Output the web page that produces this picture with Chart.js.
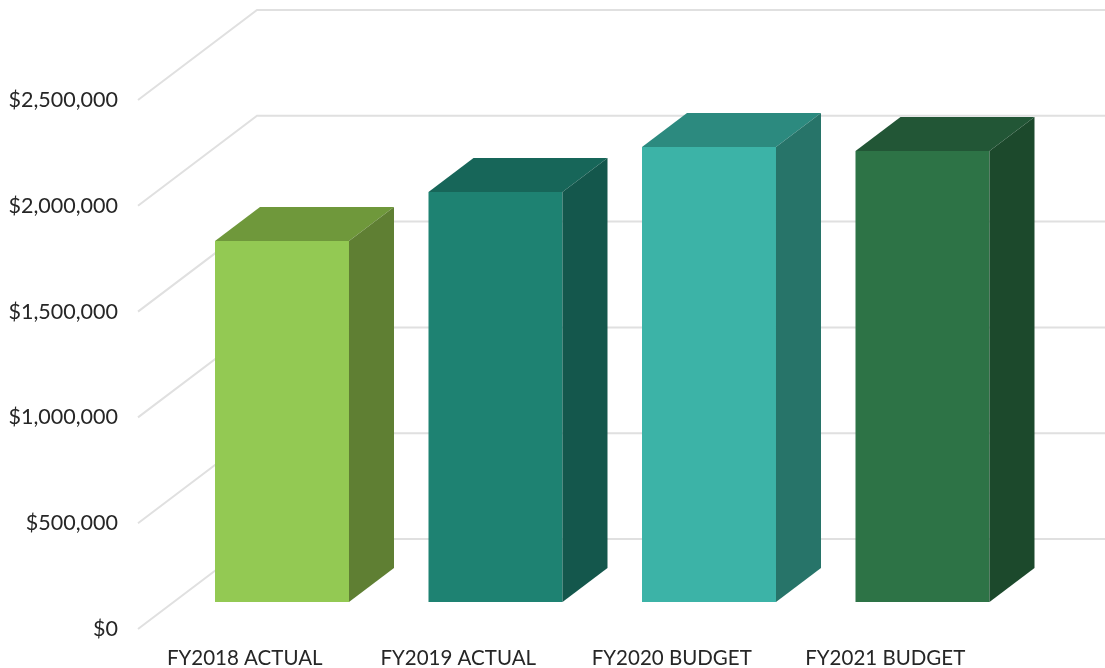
<!DOCTYPE html>
<html>
<head>
<meta charset="utf-8">
<title>Budget by fiscal year</title>
<script src="https://cdn.jsdelivr.net/npm/chart.js@4/dist/chart.umd.min.js"></script>
<style>
  html, body { margin: 0; padding: 0; background: #ffffff; }
  canvas { display: block; }
</style>
</head>
<body>
<canvas id="budgetChart" width="1105" height="668"></canvas>
<script>
const categories = ['FY2018 ACTUAL', 'FY2019 ACTUAL', 'FY2020 BUDGET', 'FY2021 BUDGET'];
const budgetValues = [1706000, 1938000, 2150000, 2131000];
const frontColors = ['#93c953', '#1e8272', '#3cb3a7', '#2d7346'];
const topColors = ['#6f983b', '#176659', '#2c8a7f', '#225636'];
const sideColors = ['#5f7f33', '#14574c', '#277469', '#1c492c'];

const axisMax = 2500000;
const axisStep = 500000;

// Fake 3D depth, in pixels
const wallDepth = { x: 119, y: -90 };
const barShift = { x: 37.25, y: -27 };
const barDepth = { x: 45, y: -34 };

function face(ctx, points, color) {
  ctx.fillStyle = color;
  ctx.beginPath();
  points.forEach(([x, y], i) => (i ? ctx.lineTo(x, y) : ctx.moveTo(x, y)));
  ctx.closePath();
  ctx.fill();
}

const depthPlugin = {
  id: 'depth',
  beforeDatasetsDraw(chart) {
    const { ctx, scales, chartArea } = chart;
    ctx.save();
    ctx.strokeStyle = '#e0e0e0';
    ctx.lineWidth = 2;
    scales.y.ticks.forEach(tick => {
      const y = scales.y.getPixelForValue(tick.value);
      ctx.beginPath();
      ctx.moveTo(chartArea.left, y);
      ctx.lineTo(chartArea.left + wallDepth.x, y + wallDepth.y);
      ctx.lineTo(chart.width, y + wallDepth.y);
      ctx.stroke();
    });
    ctx.restore();

    // Bars stand part way into the floor
    ctx.save();
    ctx.translate(barShift.x, barShift.y);
  },
  afterDatasetsDraw(chart) {
    const { ctx } = chart;
    ctx.restore();

    chart.getDatasetMeta(0).data.forEach((bar, i) => {
      const left = bar.x - bar.width / 2 + barShift.x;
      const right = bar.x + bar.width / 2 + barShift.x;
      const top = bar.y + barShift.y;
      const base = bar.base + barShift.y;
      face(ctx, [
        [left, top],
        [right, top],
        [right + barDepth.x, top + barDepth.y],
        [left + barDepth.x, top + barDepth.y]
      ], topColors[i]);
      face(ctx, [
        [right, top],
        [right + barDepth.x, top + barDepth.y],
        [right + barDepth.x, base + barDepth.y],
        [right, base]
      ], sideColors[i]);
    });
  }
};

new Chart(document.getElementById('budgetChart'), {
  type: 'bar',
  data: {
    labels: categories,
    datasets: [{
      data: budgetValues,
      backgroundColor: frontColors,
      barPercentage: 0.6276,
      categoryPercentage: 1,
      clip: false
    }]
  },
  options: {
    responsive: false,
    animation: false,
    layout: { padding: { top: 100, right: 113, bottom: 0, left: 0 } },
    plugins: { legend: { display: false }, tooltip: { enabled: false } },
    scales: {
      x: {
        grid: { display: false, drawTicks: false },
        border: { display: false },
        afterFit: scale => { scale.height = 39; },
        ticks: {
          color: '#262626',
          padding: 17,
          maxRotation: 0,
          font: { family: 'Lato', size: 20.5 }
        }
      },
      y: {
        min: 0,
        max: axisMax,
        grid: { display: false, drawTicks: false },
        border: { display: false },
        afterFit: scale => { scale.width = 138; },
        ticks: {
          stepSize: axisStep,
          color: '#262626',
          padding: 20,
          font: { family: 'Lato', size: 21.5 },
          callback: value => '$' + value.toLocaleString('en-US')
        }
      }
    }
  },
  plugins: [depthPlugin]
});
</script>
</body>
</html>
